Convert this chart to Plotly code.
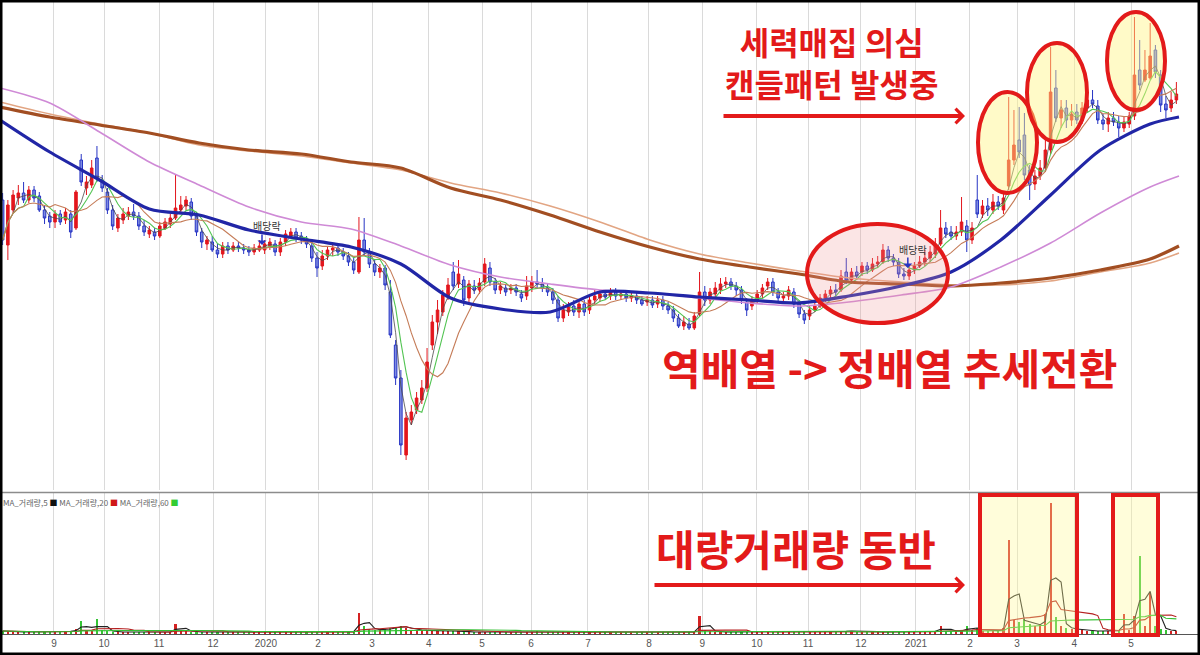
import plotly.graph_objects as go
import pandas as pd

# ---------------- data (price in chart units) ----------------
OPEN = [300,255,290,302,307,300,310,304,290,284,
        278,286,280,286,272,340,312,315,342,320,
        308,290,272,280,284,288,284,274,266,268,
        264,272,276,282,290,294,298,284,268,256,
        258,250,246,254,250,254,252,250,248,250,
        250,254,256,248,258,264,268,264,260,254,
        242,234,244,250,252,248,244,238,228,260,
        248,236,228,232,208,155,122,45,80,90,
        100,112,155,178,188,204,228,216,220,202,
        214,210,218,232,218,210,212,210,212,206,
        204,212,218,216,212,208,200,182,188,194,
        188,196,190,200,202,206,204,208,204,206,
        202,204,200,198,200,196,200,194,190,182,
        174,176,172,186,208,200,206,210,216,218,
        214,210,198,194,200,206,214,218,208,202,
        204,208,196,186,184,190,194,202,206,210,
        210,228,220,228,228,234,230,236,238,250,
        242,238,226,224,230,234,238,242,246,256,
        272,268,264,268,274,260,300,286,294,290,
        298,290,314,340,360,365,330,316,324,332,
        350,412,382,392,380,388,380,392,400,394,
        380,376,382,378,372,376,384,430,420,422,
        450,425,396,392,400]
HIGH = [307,300,310,315,318,314,314,308,295,288,
        290,290,292,290,310,346,324,340,354,325,
        312,295,286,292,293,296,288,280,274,272,
        278,282,286,326,304,304,302,288,272,264,
        264,256,258,258,258,258,256,254,256,260,
        260,262,260,262,270,272,272,268,264,258,
        248,250,254,256,256,252,248,242,283,282,
        252,240,236,235,220,160,130,88,95,108,
        120,152,185,200,210,222,238,240,224,220,
        220,222,242,238,222,218,216,216,216,210,
        224,224,230,222,216,212,204,196,198,200,
        200,200,204,210,210,210,212,212,210,210,
        208,208,204,204,204,204,204,198,194,186,
        184,182,188,228,214,212,218,222,223,222,
        218,214,202,204,210,216,222,222,212,208,
        214,212,200,190,194,200,206,210,214,216,
        230,242,232,234,238,238,242,244,256,254,
        246,242,232,234,238,244,250,254,262,290,
        278,274,274,303,280,278,325,300,302,306,
        304,308,403,390,393,387,335,330,340,360,
        453,430,400,400,396,396,398,408,410,400,
        386,388,388,384,384,388,483,460,450,477,
        455,430,404,408,418]
LOW = [255,240,287,295,297,297,298,288,276,272,
       272,275,276,262,270,314,305,312,318,308,
       286,270,268,276,280,280,270,264,262,260,
       262,270,272,280,286,290,280,264,252,250,
       248,242,242,246,248,248,246,244,245,248,
       246,250,244,244,254,262,258,256,252,238,
       223,230,240,244,244,240,234,226,226,244,
       232,224,222,210,162,115,45,40,75,86,
       96,108,150,166,184,200,210,212,194,198,
       206,206,214,214,206,206,204,206,204,198,
       200,208,212,208,204,196,178,178,184,184,
       182,184,186,196,198,200,200,200,200,198,
       198,196,194,194,192,192,190,186,178,172,
       170,170,170,184,194,196,202,206,212,210,
       204,196,184,190,196,202,210,204,198,196,
       200,192,182,176,180,188,192,198,202,204,
       208,216,216,220,224,226,228,232,236,238,
       234,222,220,220,226,232,234,238,242,254,
       262,260,260,264,248,256,282,282,284,286,
       290,286,310,335,342,320,300,310,320,328,
       346,378,372,372,374,376,376,388,392,376,
       370,368,374,363,368,372,380,410,418,420,
       422,388,382,388,396]
CLOSE = [260,295,305,307,300,310,302,290,282,278,
         286,278,288,268,308,318,318,332,322,312,
         290,274,282,286,288,284,274,268,270,264,
         274,278,282,292,295,300,284,268,258,260,
         250,246,254,250,254,252,250,248,252,254,
         256,258,248,258,266,268,262,260,256,242,
         232,244,250,252,248,244,238,230,260,248,
         236,228,232,215,165,122,55,82,88,102,
         112,138,178,190,205,215,214,226,200,216,
         210,217,236,218,210,214,208,212,208,202,
         214,218,216,212,208,200,182,190,194,188,
         196,188,200,204,206,203,208,204,206,202,
         204,200,196,200,195,200,194,190,182,174,
         178,172,184,208,200,208,212,216,218,214,
         210,200,190,200,206,212,218,208,202,204,
         210,196,186,180,190,194,202,206,210,208,
         224,220,228,224,234,230,236,238,250,242,
         238,226,224,230,234,238,242,248,256,272,
         266,264,268,278,260,272,286,294,290,298,
         294,302,340,355,348,325,315,324,332,350,
         408,382,390,380,386,380,392,400,396,380,
         376,382,378,372,378,384,425,415,430,444,
         428,395,390,400,406]
VOLUME = [3,3,2,2,2,2,2,2,2,2,
          2,3,2,3,5,13,4,3,15,4,
          3,2,2,2,2,2,2,2,2,2,
          2,2,2,10,4,3,2,2,2,2,
          2,2,2,2,2,2,2,2,2,2,
          2,2,2,2,2,2,2,2,2,2,
          2,2,2,2,2,2,2,3,21,8,
          5,4,4,5,6,7,8,6,4,4,
          4,3,3,3,3,3,3,3,2,2,
          2,2,2,2,2,2,2,2,2,2,
          2,2,3,2,2,2,2,2,2,2,
          2,2,2,2,2,2,2,2,2,2,
          2,2,2,2,2,2,2,2,2,2,
          2,2,2,18,4,3,2,2,2,2,
          2,2,2,2,2,2,2,2,2,2,
          2,2,2,2,2,2,3,2,2,2,
          3,3,3,3,3,3,2,2,2,2,
          2,2,2,2,2,2,2,3,3,8,
          3,3,3,3,8,4,6,3,3,3,
          4,6,94,14,12,15,10,8,10,20,
          131,17,8,6,5,4,4,3,3,3,
          3,3,3,4,20,4,18,78,8,42,
          8,5,4,3,3]
DAYS = list(range(1, 2 * len(CLOSE), 2))   # one candle per two trading days

# long moving averages read at sample trading-day positions
MA_DAYS = [0, 19, 38, 57, 76, 95, 115, 134, 153, 172, 191, 210, 229,
           248, 267, 286, 305, 324, 344, 363, 382, 401, 420, 439, 450]
MA60 = [380, 348, 320, 291, 285, 270, 261, 253, 236, 202, 191, 188, 208,
        207, 203, 200, 197, 204, 214, 228, 260, 305, 350, 376, 383]
MA120 = [412, 397, 368, 338, 315, 293, 278, 271, 254, 235, 223, 216, 210,
         207, 202, 197, 194, 198, 205, 213, 233, 257, 287, 313, 324]
MA200 = [398, 386, 376, 367, 355, 349, 344, 337, 330, 317, 307, 294, 278,
         260, 246, 237, 229, 222, 218, 215, 215, 219, 228, 237, 247]
MA240 = [393, 383, 375, 367, 357, 350, 346, 338, 332, 312, 300, 285, 268,
         253, 241, 233, 226, 218, 216, 214, 217, 222, 230, 241, 254]

TICK_DAYS = [0, 20.6, 39.7, 60.7, 81.3, 101.5, 121.4, 142, 163.7, 184, 202.7,
             224.4, 247.7, 268, 288.9, 308.4, 328.6, 349.6, 370.2, 388.2, 410, 431.7]
TICK_TEXT = ["8", "9", "10", "11", "12", "2020", "2", "3", "4", "5", "6",
             "7", "8", "9", "10", "11", "12", "2021", "2", "3", "4", "5"]

# ---------------- figure ----------------
W, H = 1200, 655
def PX(x):
    return x / W
def PY(y):
    return 1 - y / H

UP, DOWN = "#e3161d", "#2734c4"
RED = "#e31a1a"
KFONT = "Noto Sans CJK KR"

close_s = pd.Series(CLOSE)
vol_s = pd.Series(VOLUME)

fig = go.Figure()

fig.add_trace(go.Candlestick(
    x=DAYS, open=OPEN, high=HIGH, low=LOW, close=CLOSE,
    increasing=dict(line=dict(color=UP, width=1), fillcolor=UP),
    decreasing=dict(line=dict(color=DOWN, width=1), fillcolor="#7d8be0"),
    whiskerwidth=0, xaxis="x", yaxis="y", hoverinfo="skip"))

for win, col, w in [(3, "#4a4a4a", 0.8), (5, "#52c452", 1.1), (10, "#c57c58", 1.1)]:
    fig.add_trace(go.Scatter(x=DAYS, y=close_s.rolling(win, min_periods=1).mean(),
                             mode="lines", line=dict(color=col, width=w),
                             xaxis="x", yaxis="y", hoverinfo="skip"))

for vals, col, w in [(MA200, "#e2a583", 1.6), (MA240, "#a24e22", 3.2),
                     (MA120, "#cf8ad6", 1.6), (MA60, "#2126a6", 3.2)]:
    fig.add_trace(go.Scatter(x=MA_DAYS, y=vals, mode="lines",
                             line=dict(color=col, width=w, shape="spline", smoothing=0.8),
                             xaxis="x", yaxis="y", hoverinfo="skip"))

vcolors = ["#d42222" if c >= o else "#35c435" for o, c in zip(OPEN, CLOSE)]
fig.add_trace(go.Bar(x=DAYS, y=VOLUME, marker=dict(color=vcolors, line=dict(width=0)),
                     width=0.8, xaxis="x2", yaxis="y2", hoverinfo="skip"))
for win, col in [(3, "#222222"), (10, "#b52020"), (30, "#33c033")]:
    fig.add_trace(go.Scatter(x=DAYS, y=vol_s.rolling(win, min_periods=1).mean(),
                             mode="lines", line=dict(color=col, width=1.1),
                             xaxis="x2", yaxis="y2", hoverinfo="skip"))

XR = [0, W / 2.62]
fig.update_layout(
    width=W, height=H, margin=dict(l=0, r=0, t=0, b=0),
    paper_bgcolor="white", plot_bgcolor="white", showlegend=False,
    bargap=0, hovermode=False,
    xaxis=dict(domain=[0, 1], range=XR, anchor="y", rangeslider=dict(visible=False),
               tickvals=TICK_DAYS, showticklabels=False, showgrid=True,
               gridcolor="#dadada", gridwidth=1, zeroline=False, ticks=""),
    yaxis=dict(domain=[PY(490), 1], range=[10, 500], showticklabels=False,
               showgrid=False, zeroline=False, fixedrange=True),
    xaxis2=dict(domain=[0, 1], range=XR, anchor="y2", matches="x",
                tickvals=TICK_DAYS, ticktext=TICK_TEXT, showgrid=True,
                gridcolor="#dadada", gridwidth=1, zeroline=False, ticks="",
                showline=True, linecolor="#555555", linewidth=1,
                tickfont=dict(family="Liberation Sans", size=10, color="#555555")),
    yaxis2=dict(domain=[PY(634), PY(493)], range=[0, 141], showticklabels=False,
                showgrid=False, zeroline=False, fixedrange=True),
)

shapes = []
# panel separator
shapes.append(dict(type="line", xref="paper", yref="paper", x0=0, x1=1,
                   y0=PY(492.5), y1=PY(492.5), line=dict(color="#8c8c8c", width=1.5)))
# yellow circles
for x0, x1, y0, y1 in [(978, 1037, 92, 193), (1027, 1087, 43, 142), (1107, 1165, 12, 110)]:
    shapes.append(dict(type="circle", xref="paper", yref="paper", layer="above",
                       x0=PX(x0), x1=PX(x1), y0=PY(y1), y1=PY(y0),
                       fillcolor="rgba(255,245,133,0.45)", line=dict(color=RED, width=4)))
# pink ellipse
shapes.append(dict(type="circle", xref="paper", yref="paper", layer="above",
                   x0=PX(807), x1=PX(948), y0=PY(323), y1=PY(224),
                   fillcolor="rgba(240,150,150,0.25)", line=dict(color=RED, width=4)))
# volume boxes
for x0, x1 in [(980, 1077), (1113, 1158)]:
    shapes.append(dict(type="rect", xref="paper", yref="paper", layer="above",
                       x0=PX(x0), x1=PX(x1), y0=PY(635), y1=PY(495),
                       fillcolor="rgba(255,250,150,0.35)", line=dict(color=RED, width=4)))
# outer frame
shapes.append(dict(type="rect", xref="paper", yref="paper", x0=0, x1=1, y0=0, y1=1,
                   line=dict(color="black", width=5)))
fig.update_layout(shapes=shapes)

ann = []
def red_text(txt, cx, cy, size):
    ann.append(dict(text="<b>" + txt + "</b>", xref="paper", yref="paper",
                    x=PX(cx), y=PY(cy), xanchor="center", yanchor="middle",
                    showarrow=False, font=dict(family=KFONT, size=size, color=RED)))
red_text("세력매집 의심<br>캔들패턴 발생중", 831, 62, 32)
red_text("역배열 -> 정배열 추세전환", 889, 367, 42)
red_text("대량거래량 동반", 796, 547, 42)

def red_arrow(x0, x1, y):
    ann.append(dict(text="", xref="paper", yref="paper", x=PX(x1), y=PY(y),
                    ax=-(x1 - x0), ay=0, axref="pixel", ayref="pixel",
                    showarrow=True, arrowhead=4, arrowsize=0.7, arrowwidth=4,
                    arrowcolor=RED))
red_arrow(722, 965, 116)
red_arrow(653, 965, 585)

# ex-dividend markers
for d, p_txt, p_head in [(102, 275, 255), (348.5, 251, 232)]:
    ann.append(dict(text="배당락", x=d, y=p_txt, xref="x", yref="y", showarrow=False,
                    font=dict(family=KFONT, size=10, color="#333333")))
    ann.append(dict(text="", x=d - 2, y=p_head, xref="x", yref="y", showarrow=True,
                    ax=0, ay=-12, arrowhead=1, arrowsize=1, arrowwidth=1.5,
                    arrowcolor="#2734c4"))

# volume legend
ann.append(dict(text="MA_거래량,5 <span style='color:#111'>■</span> MA_거래량,20 "
                     "<span style='color:#d01818'>■</span> MA_거래량,60 "
                     "<span style='color:#33cc33'>■</span>",
                xref="paper", yref="paper", x=PX(1), y=PY(502), xanchor="left",
                yanchor="middle", showarrow=False,
                font=dict(family=KFONT, size=8, color="#666666")))
fig.update_layout(annotations=ann)

fig.write_html("out.html", config={"displayModeBar": False, "staticPlot": True},
               post_script="document.body.style.margin='0px';"
                           "document.body.style.padding='0px';"
                           "document.body.style.overflow='hidden';")
